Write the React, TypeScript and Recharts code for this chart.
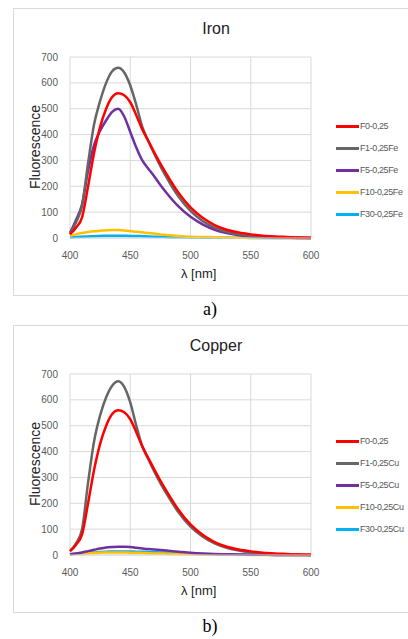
import React from 'react'
import { LineChart, Line, XAxis, YAxis, CartesianGrid } from 'recharts'

const wavelengths = [400, 405, 410, 415, 420, 425, 430, 435, 440, 445, 450, 455, 460, 465, 470, 475, 480, 490, 500, 510, 520, 530, 540, 550, 560, 570, 580, 590, 600]

const f0 = [15, 40, 80, 200, 330, 430, 500, 545, 560, 552, 525, 475, 420, 375, 330, 288, 248, 175, 118, 78, 50, 32, 21, 14, 9, 6, 4, 2, 1]

const f1Fe = [15, 60, 125, 290, 440, 530, 600, 645, 658, 640, 590, 515, 430, 375, 325, 278, 235, 160, 105, 66, 40, 24, 14, 8, 5, 3, 2, 1, 0]
const f5Fe = [20, 70, 130, 260, 360, 415, 455, 488, 500, 470, 410, 350, 300, 268, 238, 205, 175, 122, 82, 53, 32, 19, 11, 6, 3, 2, 1, 0, 0]
const f10Fe = [8, 14, 19, 23, 26, 28, 30, 31, 31, 29, 27, 24, 22, 19, 17, 14, 12, 8, 5, 4, 3, 2, 1, 1, 1, 0, 0, 0, 0]
const f30Fe = [2, 4, 5, 6, 7, 8, 9, 9, 9, 9, 8, 8, 7, 6, 5, 5, 4, 3, 2, 1, 1, 1, 1, 0, 0, 0, 0, 0, 0]

const f1Cu = [15, 45, 100, 280, 440, 540, 610, 655, 672, 650, 590, 500, 420, 370, 322, 278, 238, 165, 110, 72, 45, 28, 17, 10, 6, 3, 2, 1, 0]
const f5Cu = [3, 6, 10, 15, 20, 25, 29, 31, 32, 32, 31, 28, 25, 23, 21, 19, 17, 13, 9, 6, 4, 3, 2, 1, 1, 0, 0, 0, 0]
const f10Cu = [3, 5, 6, 7, 8, 9, 10, 10, 10, 10, 9, 9, 8, 7, 6, 6, 5, 4, 3, 2, 1, 1, 1, 0, 0, 0, 0, 0, 0]
const f30Cu = [3, 5, 7, 9, 10, 12, 13, 14, 14, 14, 14, 13, 13, 12, 11, 10, 10, 8, 6, 4, 3, 2, 1, 1, 1, 0, 0, 0, 0]

const xTicks = [400, 450, 500, 550, 600]
const yTicks = [0, 100, 200, 300, 400, 500, 600, 700]

const colors = ['#ff0000', '#666666', '#7030a0', '#ffc000', '#00b0f0']
const ironNames = ['F0-0,25', 'F1-0,25Fe', 'F5-0,25Fe', 'F10-0,25Fe', 'F30-0,25Fe']
const copperNames = ['F0-0,25', 'F1-0,25Cu', 'F5-0,25Cu', 'F10-0,25Cu', 'F30-0,25Cu']

const buildRows = (series: number[][]) =>
  wavelengths.map((wl, i) => {
    const row: Record<string, number> = { wl }
    series.forEach((s, k) => {
      row['s' + k] = s[i]
    })
    return row
  })

const tickStyle = { fontSize: 10, fill: '#595959', fontFamily: 'Liberation Sans, Arial, sans-serif' }

interface PanelProps {
  top: number
  title: string
  names: string[]
  series: number[][]
  legendTop: number
}

const Panel: React.FC<PanelProps> = ({ top, title, names, series, legendTop }) => {
  const rows = buildRows(series)
  return (
    <div style={{ position: 'absolute', left: 13, top, width: 400, height: 288, border: '1px solid #d9d9d9', boxSizing: 'border-box' }}>
      <div style={{ position: 'absolute', left: 0, top: 11, width: 404, textAlign: 'center', fontFamily: 'Liberation Sans, Arial, sans-serif', fontSize: 16, color: '#222' }}>
        {title}
      </div>
      <div
        style={{
          position: 'absolute',
          left: 21,
          top: 138,
          transform: 'translate(-50%, -50%) rotate(-90deg)',
          fontFamily: 'Liberation Sans, Arial, sans-serif',
          fontSize: 14,
          color: '#222',
          whiteSpace: 'nowrap'
        }}
      >
        Fluorescence
      </div>
      <div style={{ position: 'absolute', left: 167, top: 257, fontFamily: 'Liberation Sans, Arial, sans-serif', fontSize: 13, color: '#222' }}>
        λ [nm]
      </div>
      <div style={{ position: 'absolute', left: 0, top: 0 }}>
        <LineChart width={395} height={288} data={rows} margin={{ top: 48, right: 98, left: 0, bottom: 29 }}>
          <CartesianGrid stroke="#d9d9d9" />
          <XAxis
            dataKey="wl"
            type="number"
            domain={[400, 600]}
            ticks={xTicks}
            tick={tickStyle}
            tickLine={false}
            axisLine={{ stroke: '#d9d9d9' }}
            height={30}
            tickMargin={8}
          />
          <YAxis
            type="number"
            domain={[0, 700]}
            ticks={yTicks}
            tick={tickStyle}
            tickLine={false}
            axisLine={false}
            width={56}
            tickMargin={6}
          />
          {names.map((n, k) => (
            <Line
              key={n}
              dataKey={'s' + k}
              name={n}
              type="monotone"
              stroke={colors[k]}
              strokeWidth={2.5}
              dot={false}
              isAnimationActive={false}
            />
          )).reverse()}
        </LineChart>
      </div>
      <div style={{ position: 'absolute', left: 322, top: legendTop }}>
        {names.map((n, k) => (
          <div key={n} style={{ display: 'flex', alignItems: 'center', height: 22, whiteSpace: 'nowrap' }}>
            <div style={{ width: 23, height: 3, background: colors[k], flexShrink: 0 }} />
            <span
              style={{
                marginLeft: 1,
                fontFamily: 'Liberation Sans, Arial, sans-serif',
                fontSize: 9,
                letterSpacing: -0.4,
                color: '#595959'
              }}
            >
              {n}
            </span>
          </div>
        ))}
      </div>
    </div>
  )
}

export default function App() {
  return (
    <div style={{ position: 'absolute', left: 0, top: 0, width: 408, height: 639, overflow: 'hidden', background: '#fff' }}>
      <Panel top={8} title="Iron" names={ironNames} series={[f0, f1Fe, f5Fe, f10Fe, f30Fe]} legendTop={106} />
      <div style={{ position: 'absolute', left: 0, top: 299, width: 420, textAlign: 'center', fontFamily: 'Liberation Serif, Times New Roman, serif', fontSize: 18 }}>a)</div>
      <Panel top={325} title="Copper" names={copperNames} series={[f0, f1Cu, f5Cu, f10Cu, f30Cu]} legendTop={104} />
      <div style={{ position: 'absolute', left: 0, top: 616, width: 420, textAlign: 'center', fontFamily: 'Liberation Serif, Times New Roman, serif', fontSize: 18 }}>b)</div>
    </div>
  )
}
